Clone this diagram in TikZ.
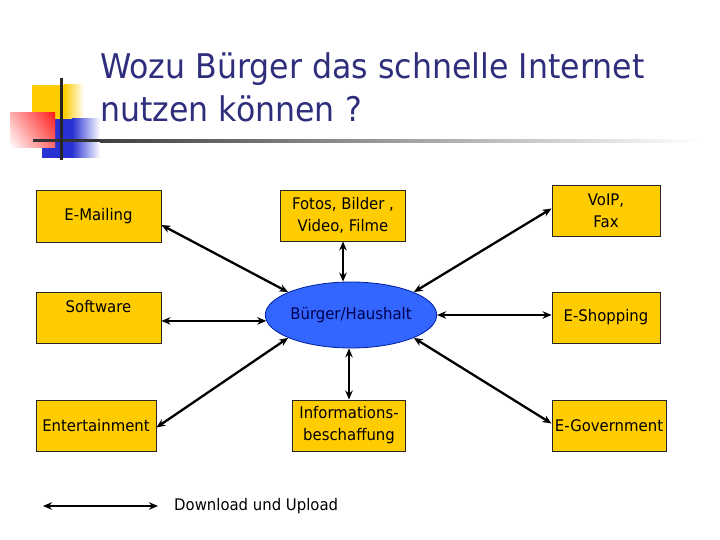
\documentclass[tikz,border=0pt]{standalone}
\usepackage{fontspec}
\setmainfont[FakeStretch=0.93]{DejaVu Sans}
\usetikzlibrary{shapes.geometric,arrows.meta,calc}
\definecolor{boxyellow}{RGB}{255,204,0}
\definecolor{ellblue}{RGB}{51,102,255}
\definecolor{ellborder}{RGB}{0,32,160}
\definecolor{titleblue}{RGB}{46,46,125}
\definecolor{elltext}{RGB}{0,0,80}
\definecolor{logoyellow}{RGB}{255,204,0}
\definecolor{logored}{RGB}{255,30,30}
\definecolor{logoblue}{RGB}{40,50,210}
\begin{document}
\begin{tikzpicture}[x=1pt,y=-1pt,
  ybox/.style={draw=black!85,line width=0.9pt,fill=boxyellow,rectangle,inner sep=0pt,align=center,
    font=\fontsize{16}{22}\selectfont},
  dblarrow/.style={line width=2.3pt,{Stealth[length=9pt,width=7.5pt]}-{Stealth[length=9pt,width=7.5pt]}},
  titletext/.style={inner sep=0pt,anchor=base west,text=titleblue,font=\fontsize{34}{40}\selectfont}]
\useasboundingbox (0,0) rectangle (720,540);
% logo
\fill[logoyellow] (32,85) rectangle (64,135);
\shade[left color=logoyellow,right color=white] (64,85) rectangle (84,135);
\fill[logoblue] (42,119) rectangle (72,158);
\shade[left color=logoblue,right color=white] (72,119) rectangle (100,158);
\shade[left color=white,right color=logored] (10,113) rectangle (55,148);
\shade[top color=white!0!logored,bottom color=white,opacity=0.35] (10,113) rectangle (55,148);
\fill[black!80] (33,139.5) rectangle (100,142.5);
\shade[left color=black!75,right color=white] (100,139.5) rectangle (700,142.5);
\draw[line width=2.5pt,black!85] (61.5,78) -- (61.5,160);
% title
\node[titletext] (t1) at (100,79) {Wozu Bürger das schnelle Internet};
\node[titletext] (t2) at (100,122) {nutzen können ?};
% boxes
\node[ybox,minimum width=125,minimum height=52] (email) at (98.5,216) {E-Mailing};
\node[ybox,minimum width=125,minimum height=51,text depth=22pt] (soft) at (98.5,317.5) {Software};
\node[ybox,minimum width=120,minimum height=51] (ent) at (96,425.5) {Entertainment};
\node[ybox,minimum width=125,minimum height=51] (fotos) at (343,215.5) {Fotos, Bilder ,\\Video, Filme};
\node[ybox,minimum width=113,minimum height=51] (info) at (349,425.5) {Informations-\\beschaffung};
\node[ybox,minimum width=108,minimum height=51] (voip) at (606,210.5) {VoIP,\\Fax};
\node[ybox,minimum width=108,minimum height=51] (eshop) at (606,317.5) {E-Shopping};
\node[ybox,minimum width=114,minimum height=51] (egov) at (609,425.5) {E-Government};
\node[ellipse,draw=ellborder,line width=0.8pt,fill=ellblue,minimum width=162,minimum height=66,inner sep=0pt,
  text=elltext,font=\fontsize{16}{22}\selectfont] (burger) at (351,315) {Bürger/Haushalt};
% connectors
\draw[dblarrow] ($(email.east)+(0,9)$) -- (burger.160);
\draw[dblarrow] (soft.east |- burger.184) -- (burger.184);
\draw[dblarrow] ($(ent.east)+(0,2)$) -- (burger.200);
\draw[dblarrow] (fotos.south) -- (fotos.south |- burger.north);
\draw[dblarrow] (info.north) -- (info.north |- burger.south);
\draw[dblarrow] ($(voip.west)+(0,-2)$) -- (burger.20);
\draw[dblarrow] (burger.east) -- (burger.east -| eshop.west);
\draw[dblarrow] ($(egov.west)+(0,-2)$) -- (burger.340);
% legend
\coordinate (la) at (43,506);
\coordinate (lb) at (158,506);
\draw[dblarrow] (la) -- (lb);
\node[anchor=west,inner sep=0pt,font=\fontsize{16}{22}\selectfont] (legend) at (174,506) {Download und Upload};
\end{tikzpicture}
\end{document}
